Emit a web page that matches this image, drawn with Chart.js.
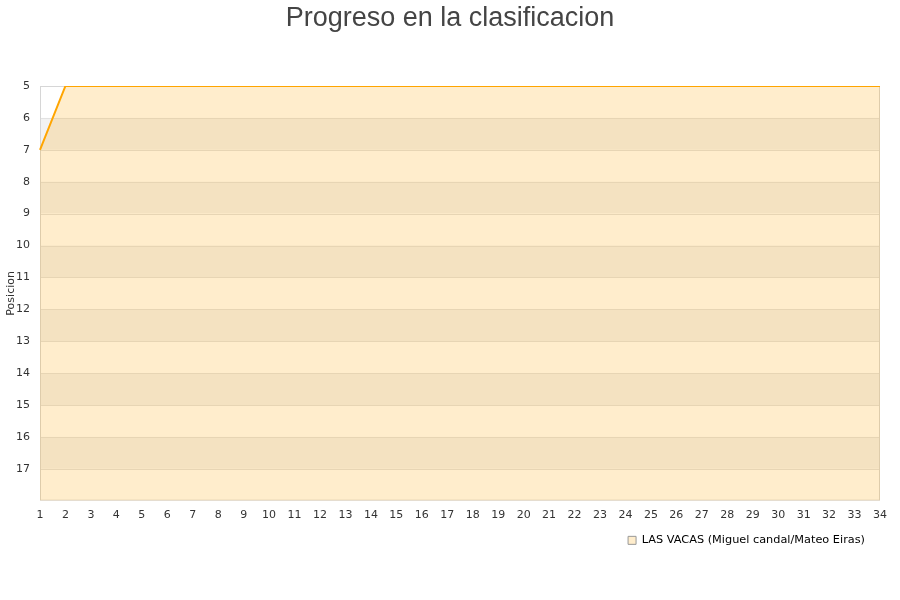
<!DOCTYPE html>
<html>
<head>
<meta charset="utf-8">
<script src="https://cdn.jsdelivr.net/npm/chart.js@4"></script>
<style>
  html, body { margin: 0; padding: 0; background: #ffffff; }
  #wrap { width: 900px; height: 600px; }
</style>
</head>
<body>
<div id="wrap"><canvas id="chart" width="900" height="600"></canvas></div>
<script>
// Jornadas (x axis) and position per jornada
const jornadas = ['1','2','3','4','5','6','7','8','9','10','11','12','13','14','15','16','17',
    '18','19','20','21','22','23','24','25','26','27','28','29','30','31','32','33','34'];
const posiciones = [7, 5, 5, 5, 5, 5, 5, 5, 5, 5, 5, 5, 5, 5, 5, 5, 5,
    5, 5, 5, 5, 5, 5, 5, 5, 5, 5, 5, 5, 5, 5, 5, 5, 5];
const equipo = 'LAS VACAS (Miguel candal/Mateo Eiras)';
const titulo = 'Progreso en la clasificacion';
const posMin = 5;
const posMax = 18;

// Alternating horizontal bands behind the series + light frame
const bandsPlugin = {
    id: 'bands',
    beforeDatasetsDraw(chart) {
        const { ctx, chartArea: a, scales: { y } } = chart;
        ctx.save();
        for (let v = posMin; v < posMax; v++) {
            const y1 = y.getPixelForValue(v);
            const y2 = y.getPixelForValue(v + 1);
            ctx.fillStyle = (v - posMin) % 2 === 0 ? '#ffffff' : '#f2f2f2';
            ctx.fillRect(a.left, Math.min(y1, y2), a.right - a.left, Math.abs(y2 - y1));
        }
        // horizontal grid lines on top of bands
        ctx.strokeStyle = '#e2e2e2';
        ctx.lineWidth = 1;
        for (let v = posMin + 1; v < posMax; v++) {
            const py = Math.round(y.getPixelForValue(v)) + 0.5;
            ctx.beginPath();
            ctx.moveTo(a.left, py);
            ctx.lineTo(a.right, py);
            ctx.stroke();
        }
        ctx.strokeStyle = '#d6d6d6';
        ctx.strokeRect(a.left + 0.5, a.top + 0.5, a.right - a.left - 1, a.bottom - a.top - 1);
        ctx.restore();
    }
};

// Title centred on the whole canvas
const titlePlugin = {
    id: 'pageTitle',
    afterDraw(chart) {
        const ctx = chart.ctx;
        ctx.save();
        ctx.font = '27px "Liberation Sans", Arial, sans-serif';
        ctx.fillStyle = '#444444';
        ctx.textAlign = 'center';
        ctx.textBaseline = 'alphabetic';
        ctx.fillText(titulo, chart.width / 2, 26);
        ctx.restore();
    }
};

Chart.defaults.font.family = '"DejaVu Sans", sans-serif';
Chart.defaults.font.size = 11;
Chart.defaults.color = '#333333';

new Chart(document.getElementById('chart'), {
    type: 'line',
    data: {
        labels: jornadas,
        datasets: [{
            label: equipo,
            data: posiciones,
            borderColor: '#ffa500',
            backgroundColor: 'rgba(255, 165, 0, 0.2)',
            borderWidth: 2,
            pointRadius: 0,
            tension: 0,
            fill: { value: posMax }
        }]
    },
    options: {
        responsive: false,
        animation: false,
        layout: { padding: { left: 0, right: 20, top: 86, bottom: 44 } },
        plugins: {
            title: { display: false },
            legend: {
                position: 'bottom',
                align: 'end',
                labels: {
                    color: '#000000',
                    boxWidth: 8,
                    boxHeight: 8,
                    padding: 15,
                    font: { size: 11.3 },
                    generateLabels() {
                        return [{
                            text: equipo,
                            fillStyle: '#ffedcc',
                            strokeStyle: '#999999',
                            lineWidth: 1,
                            datasetIndex: 0
                        }];
                    }
                }
            },
            tooltip: { enabled: false }
        },
        scales: {
            x: {
                type: 'category',
                offset: false,
                grid: { display: false, drawTicks: false },
                border: { display: false },
                ticks: { maxRotation: 0, autoSkip: false, padding: 8, color: '#333333' },
                afterFit(scale) { scale.height = 19; }
            },
            y: {
                reverse: true,
                min: posMin,
                max: posMax,
                grid: { display: false, drawTicks: false },
                border: { display: false },
                title: {
                    display: true, text: 'Posicion', color: '#333333',
                    font: { size: 11 }, padding: { top: 5, bottom: 0 }
                },
                ticks: {
                    stepSize: 1,
                    padding: 10,
                    color: '#333333',
                    callback: v => (v === posMax ? '' : v)
                },
                afterFit(scale) { scale.width = 40; }
            }
        }
    },
    plugins: [bandsPlugin, titlePlugin]
});
</script>
</body>
</html>
